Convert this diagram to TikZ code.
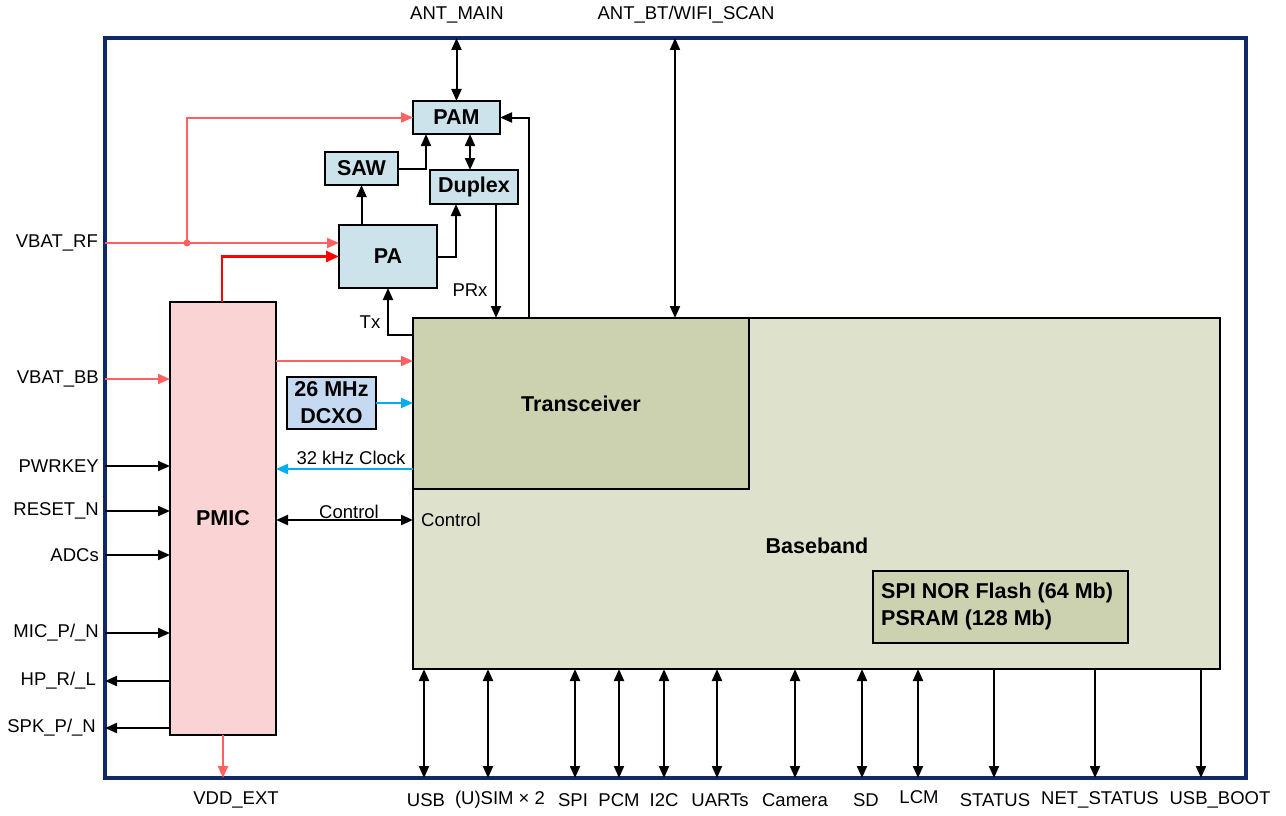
\documentclass[tikz,border=0pt]{standalone}
\usepackage{fontspec}
\setmainfont{Liberation Sans}
\usetikzlibrary{arrows.meta,calc}
\definecolor{navy}{HTML}{0F2A66}
\definecolor{pinkline}{HTML}{FF6161}
\definecolor{redline}{HTML}{FF0000}
\definecolor{blueline}{HTML}{00AEEF}
\definecolor{rfbox}{HTML}{CDE3EC}
\definecolor{xobox}{HTML}{C5D9F1}
\definecolor{pmicfill}{HTML}{FAD4D4}
\definecolor{trxfill}{HTML}{CCD1B0}
\definecolor{bbfill}{HTML}{DEE2CD}
\begin{document}
\begin{tikzpicture}[x=1pt,y=-1pt,
  >={Triangle[length=12pt,width=10pt]},
  blk/.style={draw=black, line width=2.2pt, inner sep=0pt, outer sep=0pt},
  lbl/.style={font=\fontsize{18.5}{21}\selectfont, inner sep=0pt},
  blbl/.style={font=\fontsize{21.5}{27}\selectfont\bfseries, inner sep=0pt},
  sig/.style={line width=2pt, draw=black},
  pwr/.style={line width=2pt, draw=pinkline, fill=none, -{Triangle[length=12pt,width=10pt,fill=pinkline]}},
  clk/.style={line width=2pt, draw=blueline, -{Triangle[length=12pt,width=10pt,fill=blueline]}},
]
\useasboundingbox (0,0) rectangle (1286,816);
% frame
\draw[navy, line width=3.2pt] (105,38) rectangle (1246,778);

% blocks
\node[blk, fill=bbfill, minimum width=807pt, minimum height=351pt] (bb) at (816.5,493.5) {};
\node[blk, fill=trxfill, minimum width=336pt, minimum height=171pt, blbl] (trx) at (581,403.5) {Transceiver};
\node[blbl] (bbl) at (817,546) {Baseband};
\node[blk, fill=trxfill, minimum width=255pt, minimum height=72pt] (flash) at (1000.5,607) {};
\node[blbl, align=left, anchor=west] (flt) at (881,606) {SPI NOR Flash (64 Mb)\\PSRAM (128 Mb)};
\node[blk, fill=pmicfill, minimum width=106pt, minimum height=433pt, blbl] (pmic) at (223,518.5) {PMIC};
\node[blk, fill=rfbox, minimum width=87pt, minimum height=33pt, blbl] (pam) at (456.5,117.5) {PAM};
\node[blk, fill=rfbox, minimum width=73pt, minimum height=33pt, blbl] (saw) at (361.5,168.5) {SAW};
\node[blk, fill=rfbox, minimum width=88pt, minimum height=34pt, blbl] (dup) at (474,187) {Duplex};
\node[blk, fill=rfbox, minimum width=98pt, minimum height=63pt, blbl] (pa) at (388,256.5) {PA};
\node[blk, fill=xobox, minimum width=89pt, minimum height=52pt, blbl, align=center] (xo) at (331.5,403) {26 MHz\\DCXO};

% antenna
\coordinate (antm) at (456.5,38);
\coordinate (antb) at (675,38);
\draw[sig,<->] (antm) -- (pam.north);
\draw[sig,<->] (antb) -- (antb |- bb.north);
\node[lbl] (antml) at (457,15) {ANT\_MAIN};
\node[lbl] (antbl) at (686,15) {ANT\_BT/WIFI\_SCAN};

% RF chain
\draw[sig,->] (saw.south |- pa.north) -- (saw.south);
\draw[sig,->] (saw.east) -| ([xshift=-30.5pt]pam.south);
\draw[sig,<->] ([xshift=13.5pt]pam.south) -- ([xshift=13.5pt]pam.south |- dup.north);
\draw[sig,->] (pa.east) -| ([xshift=-18pt]dup.south);
\draw[sig,->] ([xshift=22pt]dup.south) -- ([xshift=22pt]dup.south |- bb.north);
\node[lbl] (prx) at (470,290) {PRx};
\draw[sig,->] ([xshift=116pt]trx.north west) |- (pam.east);
\draw[sig,->] ([yshift=-17pt]trx.north west) -| (pa.south);
\node[lbl] (txl) at (370,322) {Tx};

% power
\coordinate (vrf) at (105,243);
\coordinate (jn) at (187,243);
\draw[pwr] (vrf) -- ([yshift=13.5pt]pa.west);
\draw[pwr] (jn) |- (pam.west);
\fill[pinkline] (jn) circle (3.5pt);
\node[lbl, anchor=east] (vrfl) at (98,243) {VBAT\_RF};
\draw[line width=2.6pt, draw=redline, -{Triangle[length=13pt,width=11pt,fill=redline]}] ([xshift=-1pt]pmic.north) |- (pa.west);
\draw[pwr] ([yshift=-59pt]pmic.north east) -- ([yshift=-59pt]pmic.north east -| trx.west);
\coordinate (vbb) at (105,379);
\draw[pwr] (vbb) -- (vbb -| pmic.west);
\node[lbl, anchor=east] (vbbl) at (99,379) {VBAT\_BB};
\coordinate (vdd) at (223,778);
\draw[pwr] (pmic.south) -- (vdd);
\node[lbl] (vddl) at (236,800) {VDD\_EXT};

% clocks
\draw[clk] (xo.east) -- (xo.east -| trx.west);
\coordinate (c32) at (413,469);
\draw[clk] (c32) -- (c32 -| pmic.east);
\node[lbl] (c32l) at (351,458) {32 kHz Clock};

% control
\coordinate (ctl) at (413,520);
\draw[sig,<->] (ctl -| pmic.east) -- (ctl);
\node[lbl] (ctll) at (349,512) {Control};
\node[lbl, anchor=west] (ctli) at (421,520) {Control};

% PMIC pins
\foreach \y/\t in {466/PWRKEY, 511/RESET\_N, 555/ADCs, 633/{MIC\_P/\_N}}{
  \coordinate (p\y) at (105,\y);
  \draw[sig,->] (p\y) -- (p\y -| pmic.west);
  \node[lbl, anchor=east] (pl\y) at (99,\y) {\t};
}
\foreach \y/\t in {681/{HP\_R/\_L}, 728/{SPK\_P/\_N}}{
  \coordinate (p\y) at (105,\y);
  \draw[sig,->] (p\y -| pmic.west) -- (p\y);
  \node[lbl, anchor=east] (pl\y) at (96,\y) {\t};
}

% baseband pins
\foreach \x/\lx/\ly/\t in {424/426/800/USB, 488/500/800/{(U)SIM × 2}, 575/573/800/SPI, 619/619/800/PCM, 664/664/800/I2C, 717/720/800/UARTs, 795/795/800/Camera, 862/866/800/SD, 918/919/797/LCM}{
  \coordinate (b\x) at (\x,778);
  \draw[sig,<->] (b\x |- bb.south) -- (b\x);
  \node[lbl] (bl\x) at (\lx,\ly) {\t};
}
\foreach \x/\lx/\t in {994/995/STATUS, 1095/1100/NET\_STATUS, 1201/1220/USB\_BOOT}{
  \coordinate (b\x) at (\x,778);
  \draw[sig,->] (b\x |- bb.south) -- (b\x);
  \node[lbl] (bl\x) at (\lx,800) {\t};
}
\end{tikzpicture}
\end{document}
